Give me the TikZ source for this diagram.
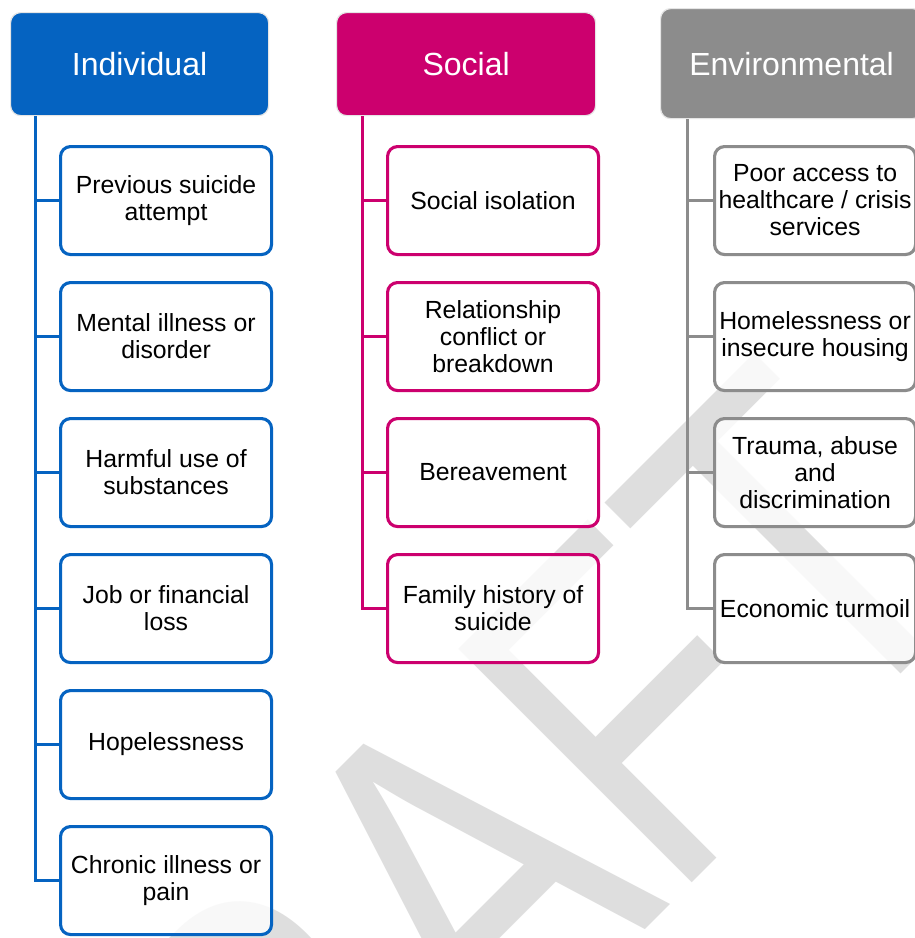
\documentclass[tikz,border=0pt]{standalone}
\usepackage{fontspec}
\setmainfont{Liberation Sans}
\definecolor{blu}{RGB}{5,99,193}
\definecolor{mag}{RGB}{204,0,110}
\definecolor{gry}{RGB}{140,140,140}
\definecolor{wm}{RGB}{222,222,222}
\begin{document}
\begin{tikzpicture}[x=1pt,y=-1pt,
  hdr/.style={draw=black!10, line width=1.2pt, rounded corners=10pt, fill=#1,
    text=white, font=\fontsize{32}{36}\selectfont, inner sep=0pt,
    minimum height=103pt, anchor=north west},
  cbox/.style={draw=#1, line width=3.1pt, rounded corners=10pt, fill=white,
    fill opacity=0.8, text opacity=1, minimum width=211pt, minimum height=108pt,
    inner sep=0pt, align=center, anchor=north west,
    font=\fontsize{24.8}{27}\selectfont},
  conn/.style={draw=#1, line width=3pt}]
\useasboundingbox (0,0) rectangle (915,938);
\clip (0,0) rectangle (915,938);
\fill[white] (0,0) rectangle (915,938);
% watermark
\node[rotate=45, text=wm, font=\fontsize{480}{480}\selectfont, anchor=base, inner sep=0pt] (wmk) at (553,1022) {\scalebox{0.78}[1]{DRAFT}};
% headers
\node[hdr=blu, minimum width=258pt] (ind) at (10,12) {Individual};
\node[hdr=mag, minimum width=259pt] (soc) at (336,12) {Social};
\node[hdr=gry, minimum width=262pt, minimum height=110pt] (env) at (660,8) {Environmental};
% trunks
\coordinate (ti) at ([xshift=25pt]ind.south west);
\coordinate (ts) at ([xshift=26pt]soc.south west);
\coordinate (te) at ([xshift=27pt]env.south west);
% individual
\node[cbox=blu] (i1) at (59,145) {Previous suicide\\attempt};
\node[cbox=blu] (i2) at (59,281) {Mental illness or\\disorder};
\node[cbox=blu] (i3) at (59,417) {Harmful use of\\substances};
\node[cbox=blu] (i4) at (59,553) {Job or financial\\loss};
\node[cbox=blu] (i5) at (59,689) {Hopelessness};
\node[cbox=blu] (i6) at (59,825) {Chronic illness or\\pain};
% social
\node[cbox=mag] (s1) at (386,145) {Social isolation};
\node[cbox=mag] (s2) at (386,281) {Relationship\\conflict or\\breakdown};
\node[cbox=mag] (s3) at (386,417) {Bereavement};
\node[cbox=mag] (s4) at (386,553) {Family history of\\suicide};
% environmental
\node[cbox=gry, minimum width=201pt] (e1) at (713,145) {Poor access to\\healthcare / crisis\\services};
\node[cbox=gry, minimum width=201pt] (e2) at (713,281) {Homelessness or\\insecure housing};
\node[cbox=gry, minimum width=201pt] (e3) at (713,417) {Trauma, abuse\\and\\discrimination};
\node[cbox=gry, minimum width=201pt] (e4) at (713,553) {Economic turmoil};
% connectors
\draw[conn=blu] (ti) |- (i6.west);
\foreach \k in {1,...,5} \draw[conn=blu] (i\k.west) -- (i\k.west -| ti);
\draw[conn=mag] (ts) |- (s4.west);
\foreach \k in {1,2,3} \draw[conn=mag] (s\k.west) -- (s\k.west -| ts);
\draw[conn=gry] (te) |- (e4.west);
\foreach \k in {1,2,3} \draw[conn=gry] (e\k.west) -- (e\k.west -| te);
\end{tikzpicture}
\end{document}
